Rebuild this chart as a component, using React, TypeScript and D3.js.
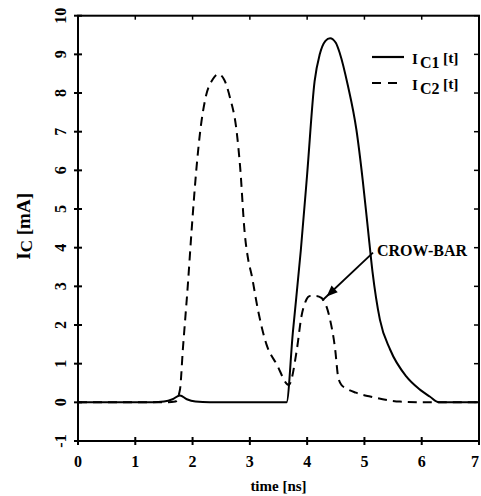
import React from "react";
import * as d3 from "d3";

// I_C1 (solid) samples
const time1 = [0, 1.3, 1.5, 1.65, 1.78, 1.9, 2.05, 2.3, 3.0, 3.64, 3.75, 3.89, 4.0, 4.13, 4.22, 4.32, 4.4, 4.5, 4.57, 4.71, 4.86, 4.97, 5.06, 5.14, 5.27, 5.45, 5.73, 5.95, 6.14, 6.3, 7];
const ic1 = [0, 0, 0.02, 0.08, 0.18, 0.08, 0.02, 0, 0, 0, 1.8, 3.94, 5.9, 8.3, 9.0, 9.35, 9.42, 9.3, 9.03, 8.2, 7.05, 5.75, 4.5, 3.39, 2.14, 1.36, 0.67, 0.35, 0.15, 0, 0];

// I_C2 (dashed) samples
const time2 = [0, 1.55, 1.7, 1.78, 1.83, 1.92, 1.98, 2.07, 2.13, 2.23, 2.35, 2.45, 2.55, 2.65, 2.77, 2.83, 2.91, 2.97, 3.03, 3.14, 3.29, 3.47, 3.68, 3.82, 3.9, 3.97, 4.05, 4.15, 4.25, 4.31, 4.4, 4.49, 4.54, 4.6, 4.66, 4.85, 5.1, 5.62, 6.1, 7];
const ic2 = [0, 0, 0.02, 0.33, 1.36, 3.09, 4.38, 6.09, 6.97, 7.9, 8.35, 8.49, 8.35, 7.9, 7.0, 6.09, 4.38, 3.7, 3.3, 2.4, 1.5, 0.98, 0.45, 1.36, 2.22, 2.6, 2.75, 2.75, 2.7, 2.58, 2.14, 1.36, 0.67, 0.45, 0.38, 0.25, 0.15, 0.02, 0, 0];

const xTicks = [0, 1, 2, 3, 4, 5, 6, 7];
const yTicks = [-1, 0, 1, 2, 3, 4, 5, 6, 7, 8, 9, 10];

// annotation arrow: from label to the crow-bar hump
const arrowFrom = [5.15, 3.87];
const arrowTo = [4.34, 2.74];

const W = 481;
const H = 496;
const left = 78, right = 479, top = 15.7, bottom = 441;
const font = "'Liberation Serif', 'Times New Roman', serif";

export default function App() {
  const x = d3.scaleLinear().domain([0, 7]).range([left, right]);
  const y = d3.scaleLinear().domain([-1, 10]).range([bottom, top]);

  const line = d3.line<number>()
    .curve(d3.curveMonotoneX);

  const path1 = line.x((d, i) => x(time1[i])).y(d => y(d))(ic1);
  const path2 = line.x((d, i) => x(time2[i])).y(d => y(d))(ic2);

  const ax = x(arrowFrom[0]), ay = y(arrowFrom[1]);
  const bx = x(arrowTo[0]), by = y(arrowTo[1]);
  const ang = Math.atan2(by - ay, bx - ax);
  const hl = 11, hw = 4.5;
  const head = [
    [bx, by],
    [bx - hl * Math.cos(ang) + hw * Math.sin(ang), by - hl * Math.sin(ang) - hw * Math.cos(ang)],
    [bx - hl * Math.cos(ang) - hw * Math.sin(ang), by - hl * Math.sin(ang) + hw * Math.cos(ang)],
  ].map(p => p.join(",")).join(" ");

  const legend = (yy: number, sub: string, dash?: string) => (
    <g>
      <line x1={372} x2={404} y1={yy} y2={yy} stroke="#000" strokeWidth={2.2} strokeDasharray={dash} />
      <text x={412} y={yy + 7} fontSize={15}>I</text>
      <text x={420} y={yy + 11} fontSize={16}>{sub}</text>
      <text x={443} y={yy + 6} fontSize={15.5}>[t]</text>
    </g>
  );

  return (
    <svg width={W} height={H} style={{ position: "absolute", left: 0, top: 0, background: "#fff" }}
      fontFamily={font} fontWeight="bold">
      {/* frame */}
      <rect x={left} y={top} width={right - left} height={bottom - top} fill="none" stroke="#000" strokeWidth={2} />

      {/* y ticks */}
      {yTicks.map(t => (
        <g key={"y" + t}>
          <line x1={left - 4} x2={left + 4} y1={y(t)} y2={y(t)} stroke="#000" strokeWidth={2} />
          <line x1={right - 5} x2={right} y1={y(t)} y2={y(t)} stroke="#000" strokeWidth={1.5} />
          <text transform={`translate(${left - 12},${y(t)}) rotate(-90)`} textAnchor="middle" fontSize={16}>{t}</text>
        </g>
      ))}

      {/* x ticks */}
      {xTicks.map(t => (
        <g key={"x" + t}>
          <line x1={x(t)} x2={x(t)} y1={bottom - 4} y2={bottom + 4} stroke="#000" strokeWidth={2} />
          <line x1={x(t)} x2={x(t)} y1={top} y2={top + 4} stroke="#000" strokeWidth={1.5} />
          <text x={Math.min(x(t), 475)} y={467} textAnchor="middle" fontSize={16}>{t}</text>
        </g>
      ))}

      {/* axis titles */}
      <text x={(left + right) / 2} y={491} textAnchor="middle" fontSize={15}>time [ns]</text>
      <text transform={`translate(30,${(top + bottom) / 2 - 2}) rotate(-90)`} textAnchor="middle" fontSize={19}>
        I<tspan fontSize={17} dy={2}>C</tspan><tspan dy={-2}> [mA]</tspan>
      </text>

      {/* curves */}
      <path d={path2 || ""} fill="none" stroke="#000" strokeWidth={2} strokeDasharray="9,6" />
      <path d={path1 || ""} fill="none" stroke="#000" strokeWidth={2} />

      {/* legend */}
      {legend(57, "C1")}
      {legend(83, "C2", "9,7")}

      {/* crow-bar annotation */}
      <text x={377} y={256} fontSize={16}>CROW-BAR</text>
      <line x1={ax} y1={ay} x2={bx + 6 * Math.cos(ang)} y2={by + 6 * Math.sin(ang)} stroke="#000" strokeWidth={1.8} />
      <polygon points={head} fill="#000" />
    </svg>
  );
}
